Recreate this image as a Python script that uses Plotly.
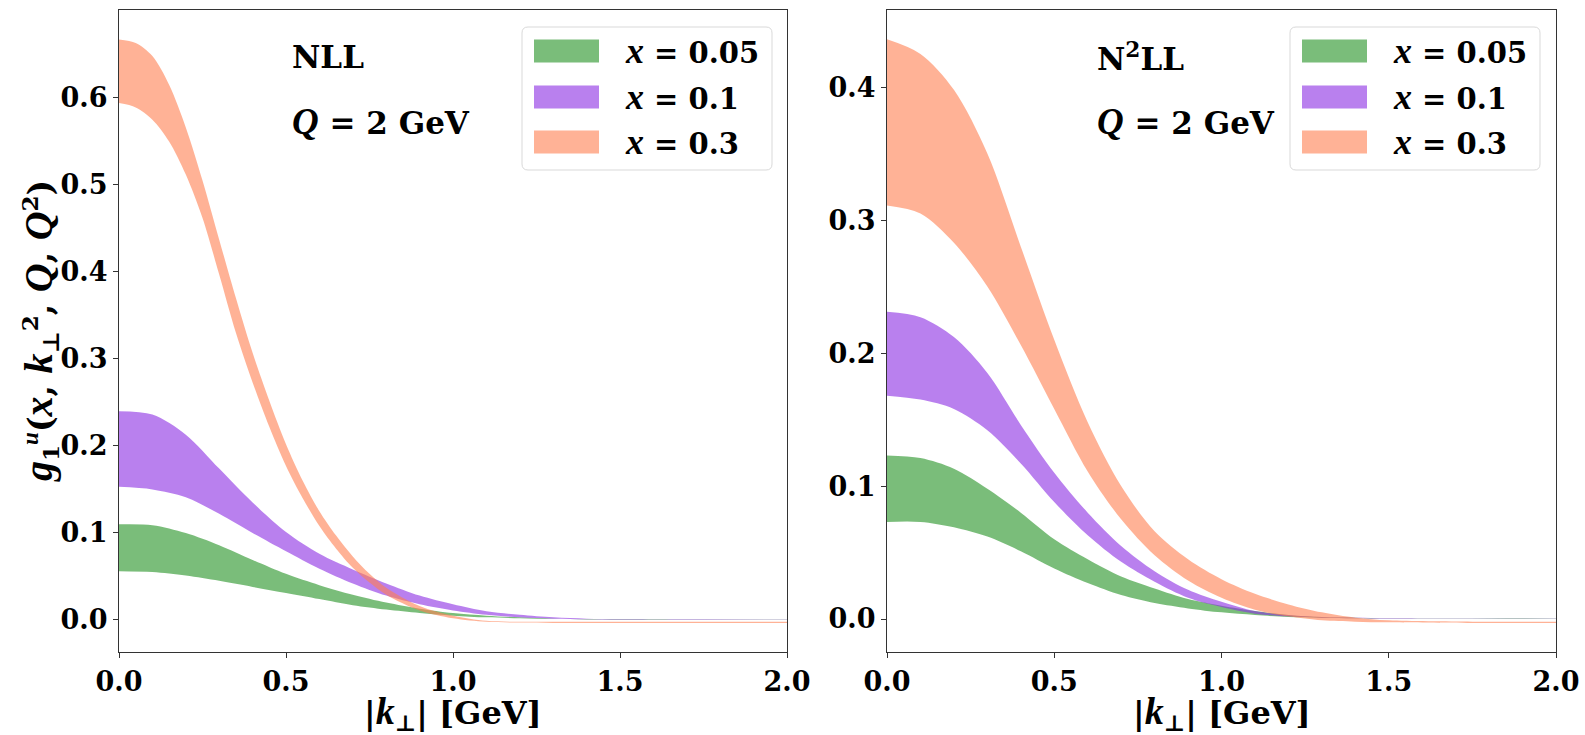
import plotly.graph_objects as go

# ---------------- data ----------------
k_perp = [0.0, 0.1, 0.2, 0.3, 0.4, 0.5, 0.6, 0.7, 0.8, 0.9, 1.0, 1.1, 1.2, 1.3, 1.4, 1.5, 1.75, 2.0]
k_perp_fine = [0.0, 0.05, 0.1, 0.15, 0.2, 0.25, 0.3, 0.35, 0.4, 0.45, 0.5, 0.55, 0.6, 0.65, 0.7, 0.75, 0.8,
               0.9, 1.0, 1.1, 1.2, 1.3, 1.5, 2.0]

x_labels = ["0.05", "0.1", "0.3"]

# NLL panel
nll_green_up = [0.110, 0.109, 0.100, 0.086, 0.069, 0.053, 0.040, 0.029, 0.020, 0.013, 0.008, 0.005, 0.003, 0.0015, 0.001, 0.0007, 0.0005, 0.0005]
nll_green_lo = [0.056, 0.055, 0.051, 0.045, 0.038, 0.031, 0.024, 0.017, 0.012, 0.008, 0.005, 0.003, 0.002, 0.001, 0.0006, 0.0004, 0.0003, 0.0003]
nll_purple_up = [0.240, 0.236, 0.213, 0.174, 0.135, 0.101, 0.076, 0.058, 0.042, 0.028, 0.018, 0.010, 0.006, 0.003, 0.0015, 0.001, 0.0007, 0.0006]
nll_purple_lo = [0.153, 0.150, 0.141, 0.122, 0.100, 0.079, 0.059, 0.042, 0.028, 0.018, 0.011, 0.006, 0.003, 0.0015, 0.0008, 0.0005, 0.0003, 0.0003]
# x = 0.3 (NLL) on the finer k grid
nll_orange_up = [0.667, 0.663, 0.648, 0.615, 0.566, 0.505, 0.437, 0.370, 0.307, 0.252, 0.202, 0.160, 0.125, 0.097,
                 0.073, 0.053, 0.037, 0.016, 0.005, -0.001, -0.002, -0.002, -0.002, -0.002]
nll_orange_lo = [0.594, 0.589, 0.575, 0.550, 0.512, 0.462, 0.397, 0.330, 0.273, 0.222, 0.177, 0.140, 0.108, 0.082,
                 0.060, 0.043, 0.029, 0.011, 0.002, -0.002, -0.003, -0.0035, -0.0035, -0.0035]

# N2LL panel
n2ll_green_up = [0.123, 0.121, 0.113, 0.098, 0.080, 0.060, 0.045, 0.032, 0.023, 0.015, 0.010, 0.006, 0.003, 0.0015, 0.001, 0.0006, 0.0005, 0.0005]
n2ll_green_lo = [0.073, 0.073, 0.069, 0.062, 0.051, 0.038, 0.027, 0.018, 0.012, 0.008, 0.005, 0.003, 0.0015, 0.001, 0.0006, 0.0004, 0.0003, 0.0003]
n2ll_purple_up = [0.231, 0.227, 0.212, 0.185, 0.146, 0.110, 0.080, 0.055, 0.036, 0.022, 0.013, 0.006, 0.003, 0.0015, 0.001, 0.0007, 0.0005, 0.0005]
n2ll_purple_lo = [0.168, 0.165, 0.158, 0.142, 0.117, 0.088, 0.063, 0.043, 0.028, 0.016, 0.009, 0.004, 0.002, 0.001, 0.0006, 0.0004, 0.0003, 0.0003]
n2ll_orange_up = [0.436, 0.425, 0.398, 0.350, 0.280, 0.210, 0.148, 0.100, 0.066, 0.045, 0.030, 0.019, 0.011, 0.005, 0.001, -0.001, -0.002, -0.002]
n2ll_orange_lo = [0.311, 0.305, 0.283, 0.250, 0.206, 0.158, 0.111, 0.075, 0.048, 0.029, 0.016, 0.007, 0.002, -0.001, -0.002, -0.0025, -0.003, -0.003]

x_ticks = [0.0, 0.5, 1.0, 1.5, 2.0]
y_ticks_nll = [0.0, 0.1, 0.2, 0.3, 0.4, 0.5, 0.6]
y_ticks_n2ll = [0.0, 0.1, 0.2, 0.3, 0.4]

# ---------------- styling ----------------
W, H = 1585, 735
FONT = "DejaVu Serif"
MATH = "Liberation Serif"
colors = ["rgba(0,128,0,0.52)", "rgba(138,43,226,0.6)", "rgba(255,127,80,0.6)"]


def m(s, size=None):
    """italic math letter in a Times-like face"""
    st = f"font-family:{MATH}"
    if size:
        st += f";font-size:{size}px"
    return f'<span style="{st}"><i>{s}</i></span>'


def px(x):
    return x / W


def py(y):
    return 1 - y / H


fig = go.Figure()


def add_band(xa, ya, kk, lo, up, color):
    common = dict(x=kk, mode="lines", xaxis=xa, yaxis=ya, showlegend=False, hoverinfo="skip")
    fig.add_trace(go.Scatter(y=lo, line=dict(width=0, color=color, shape="spline", smoothing=0.9), **common))
    fig.add_trace(go.Scatter(y=up, line=dict(width=0, color=color, shape="spline", smoothing=0.9),
                             fill="tonexty", fillcolor=color, **common))


nll = [(k_perp, nll_green_lo, nll_green_up), (k_perp, nll_purple_lo, nll_purple_up),
       (k_perp_fine, nll_orange_lo, nll_orange_up)]
n2ll = [(k_perp, n2ll_green_lo, n2ll_green_up), (k_perp, n2ll_purple_lo, n2ll_purple_up),
        (k_perp, n2ll_orange_lo, n2ll_orange_up)]
for (kk, lo, up), c in zip(nll, colors):
    add_band("x", "y", kk, lo, up, c)
for (kk, lo, up), c in zip(n2ll, colors):
    add_band("x2", "y2", kk, lo, up, c)

axis_common = dict(
    showline=True, mirror=True, linecolor="#333", linewidth=1.2,
    ticks="outside", ticklen=5, tickwidth=1, tickcolor="#333",
    showgrid=False, zeroline=False, tickformat=".1f", automargin=False,
    tickfont=dict(family=FONT, size=27, color="black", weight="bold"),
)

ydom = [py(652), py(10)]
fig.update_layout(
    width=W, height=H,
    margin=dict(l=0, r=0, t=0, b=0, pad=0, autoexpand=False),
    paper_bgcolor="white", plot_bgcolor="white",
    showlegend=False,
    xaxis=dict(domain=[px(119), px(787)], range=[0, 2], tickvals=x_ticks, anchor="y", **axis_common),
    yaxis=dict(domain=ydom, range=[-0.0368, 0.701], tickvals=y_ticks_nll, anchor="x", **axis_common),
    xaxis2=dict(domain=[px(887), px(1556)], range=[0, 2], tickvals=x_ticks, anchor="y2", **axis_common),
    yaxis2=dict(domain=ydom, range=[-0.0248, 0.458], tickvals=y_ticks_n2ll, anchor="x2", **axis_common),
)

ann = []
xlabel = f"<b>|{m('k', 38)}<sub>⊥</sub>| [GeV]</b>"
for cx in [(119 + 787) / 2, (887 + 1556) / 2]:
    ann.append(dict(x=px(cx), y=py(713), xref="paper", yref="paper", text=xlabel, showarrow=False,
                    xanchor="center", yanchor="middle", font=dict(family=FONT, size=32, color="black")))

ylabel = (f"<b>{m('g', 40)}<sub>1</sub><sup>{m('u')}</sup>({m('x', 40)}, {m('k', 40)}<sub>⊥</sub><sup>2</sup>, "
          f"{m('Q', 40)}, {m('Q', 40)}<sup>2</sup>)</b>")
ann.append(dict(x=px(40), y=py(331), xref="paper", yref="paper", text=ylabel, showarrow=False, textangle=-90,
                xanchor="center", yanchor="middle", font=dict(family=FONT, size=33, color="black")))

panel_titles = [("<b>NLL</b>", 290), ("<b>N<sup>2</sup>LL</b>", 1095)]
for t, x0 in panel_titles:
    ann.append(dict(x=px(x0), y=py(57), xref="paper", yref="paper", text=t, showarrow=False,
                    xanchor="left", yanchor="middle", font=dict(family=FONT, size=31, color="black")))
    ann.append(dict(x=px(x0), y=py(121), xref="paper", yref="paper", text=f"<b>{m('Q', 37)} = 2 GeV</b>",
                    showarrow=False, xanchor="left", yanchor="middle",
                    font=dict(family=FONT, size=31, color="black")))

shapes = []


def rounded_rect(x0, y0, x1, y1, r=6):
    X0, X1 = px(x0), px(x1)
    Y0, Y1 = py(y0), py(y1)
    rx, ry = r / W, r / H
    return (f"M {X0+rx},{Y0} L {X1-rx},{Y0} Q {X1},{Y0} {X1},{Y0-ry} "
            f"L {X1},{Y1+ry} Q {X1},{Y1} {X1-rx},{Y1} L {X0+rx},{Y1} Q {X0},{Y1} {X0},{Y1+ry} "
            f"L {X0},{Y0-ry} Q {X0},{Y0} {X0+rx},{Y0} Z")


row_y = [51, 97, 142]
for bx0, bx1 in [(522, 772), (1290, 1540)]:
    shapes.append(dict(type="path", path=rounded_rect(bx0, 27, bx1, 170), xref="paper", yref="paper",
                       line=dict(color="#d9d9d9", width=1), fillcolor="rgba(255,255,255,0.8)", layer="above"))
    for i, (lab, c) in enumerate(zip(x_labels, colors)):
        yc = row_y[i]
        shapes.append(dict(type="rect", x0=px(bx0 + 12), x1=px(bx0 + 77), y0=py(yc + 11.5), y1=py(yc - 11.5),
                           xref="paper", yref="paper", line=dict(width=0), fillcolor=c, layer="above"))
        ann.append(dict(x=px(bx0 + 101), y=py(yc), xref="paper", yref="paper",
                        text=f"<b>{m('x', 36)} = {lab}</b>", showarrow=False, xanchor="left", yanchor="middle",
                        font=dict(family=FONT, size=29, color="black")))

fig.update_layout(annotations=ann, shapes=shapes)
fig.write_html("out.html")
